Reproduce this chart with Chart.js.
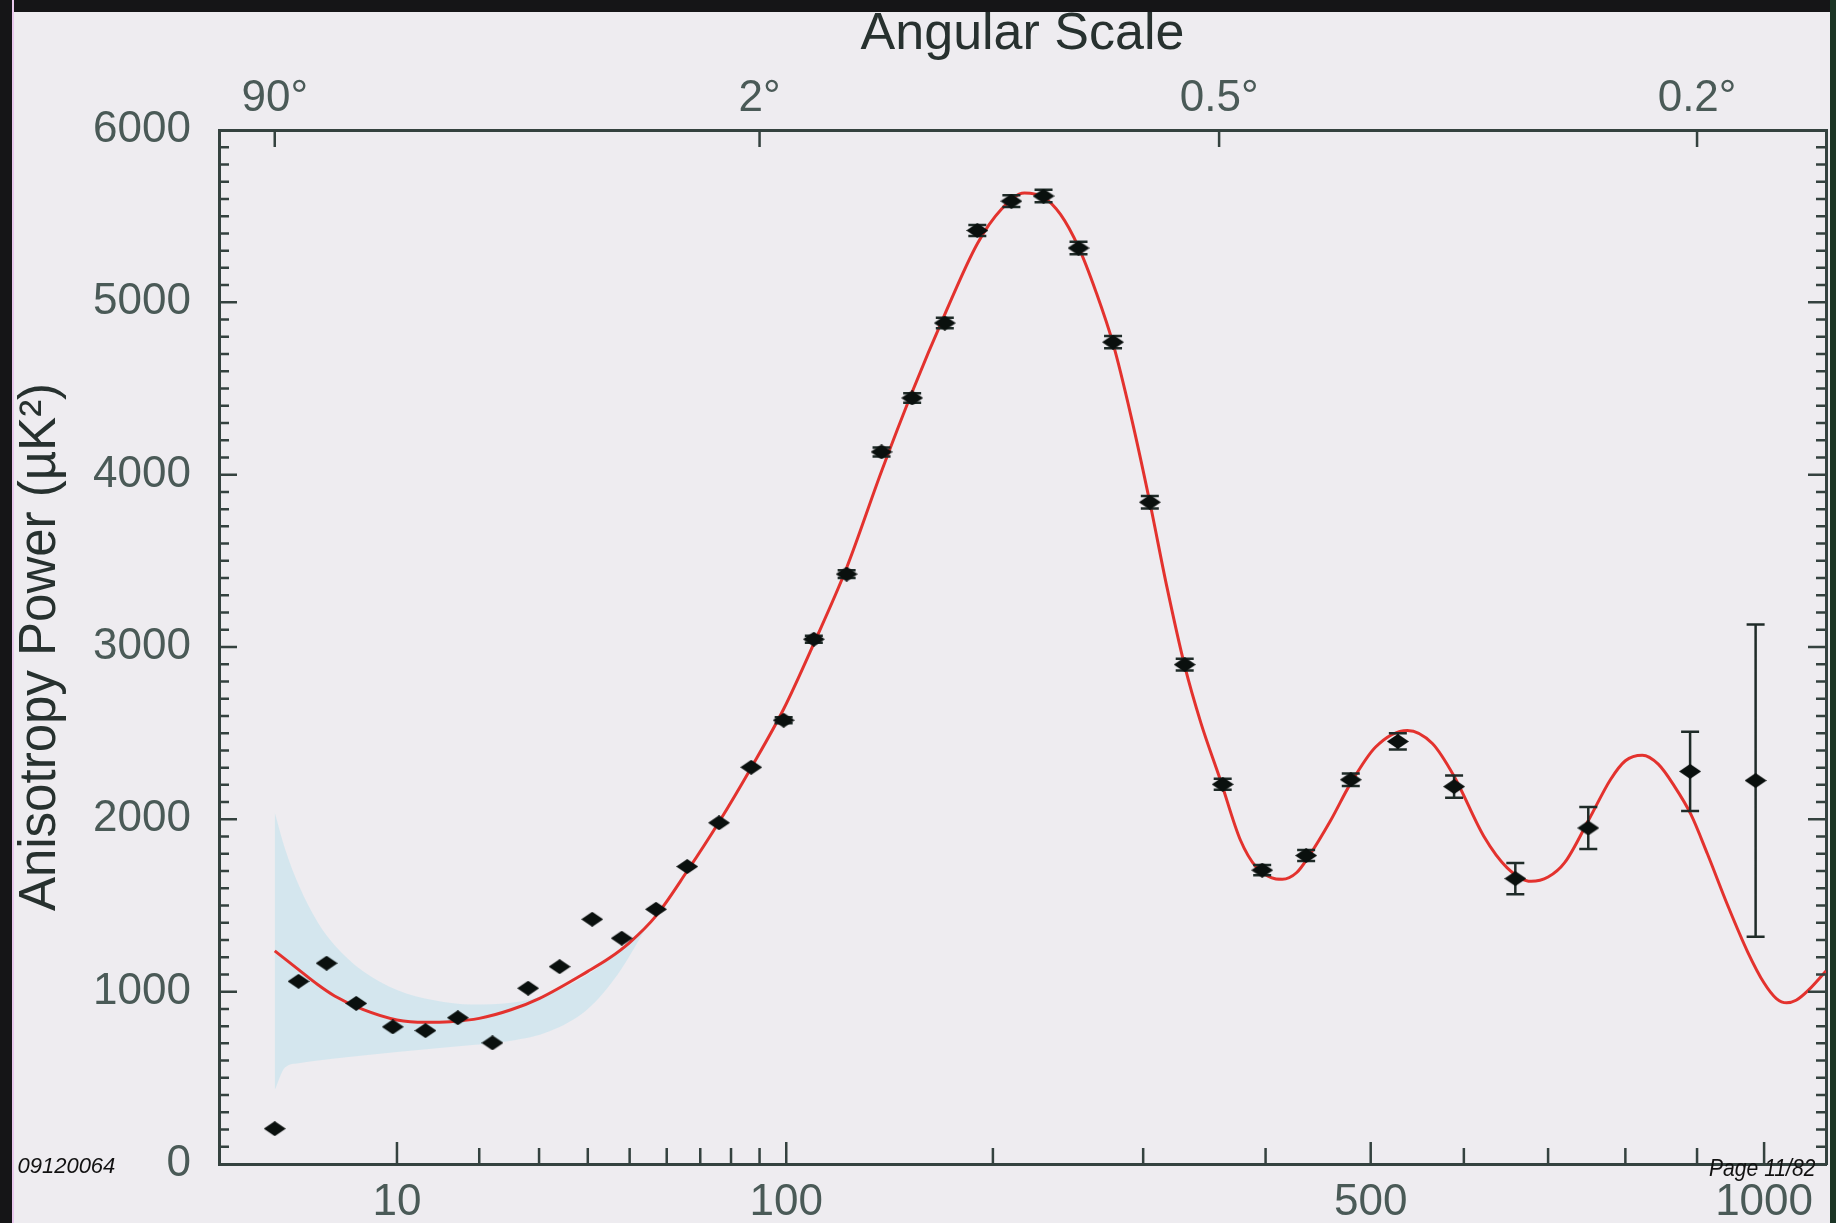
<!DOCTYPE html>
<html>
<head>
<meta charset="utf-8">
<script src="https://cdn.jsdelivr.net/npm/chart.js@4/dist/chart.umd.min.js"></script>
<style>
  html, body { margin: 0; padding: 0; background: #eeecf0; overflow: hidden; }
  #wrap { position: relative; width: 1836px; height: 1223px; }
  #chart { position: absolute; left: 0; top: 0; }
  .frameTop { position: absolute; left: 0; top: 0; width: 1836px; height: 12px; background: #151517; }
  .frameLeft { position: absolute; left: 0; top: 0; width: 12px; height: 1223px; background: #151517; border-right: 2px solid #e8c8ec; }
  .frameRight { position: absolute; right: 0; top: 0; width: 6px; height: 1223px; background: #1c3526; }
  .note { position: absolute; font-family: "Liberation Sans", Arial, sans-serif; font-style: italic; color: #111; white-space: nowrap; }
</style>
</head>
<body>
<div id="wrap">
  <canvas id="chart" width="1836" height="1223"></canvas>
  <div class="note" style="left:-7px; top:1153px; font-size:22px;">a: 09120064</div>
  <div class="note" style="left:1709px; top:1154px; font-size:24px; transform:scaleX(0.88); transform-origin:left top;">Page 11/82</div>
  <div class="frameTop"></div>
  <div class="frameLeft"></div>
  <div class="frameRight"></div>
</div>
<script>
// binned measurements (multipole l, power in uK^2, 1-sigma error)
const dataL     = [2, 3, 4.5, 6.5, 9.6, 13, 17, 22, 28, 34, 41, 48, 57, 66, 76, 87, 99, 111, 125, 141,
                   156, 173, 191, 211, 231, 254, 278, 305, 332, 363, 397, 437, 480, 528, 589, 660, 751, 890, 987];
const dataPower = [205, 1060, 1165, 932, 796, 774, 849, 703, 1020, 1145, 1420, 1310, 1478, 1726, 1980, 2302, 2575, 3045, 3423, 4132,
                   4445, 4880, 5417, 5587, 5617, 5315, 4769, 3840, 2898, 2203, 1705, 1790, 2230, 2452, 2190, 1656, 1950, 2278, 2225];
const dataErr   = [0, 0, 0, 0, 0, 0, 0, 0, 0, 0, 0, 0, 0, 0, 0, 0, 18, 20, 22, 26,
                   28, 30, 32, 34, 36, 36, 36, 36, 34, 32, 30, 32, 36, 47, 65, 90, 122, 230, 906];

// best fit model curve
const modelL     = [2, 3, 4, 5, 7, 10, 13, 16, 20, 25, 30, 40, 45, 50, 57, 66, 76, 87, 99, 111, 125, 141, 156, 173, 191, 205,
                    219, 231, 242, 254, 266, 278, 291, 305, 318, 332, 345, 361, 378, 392, 405, 415, 428, 440, 460, 480, 505,
                    538, 565, 589, 623, 650, 679, 700, 721, 752, 780, 800, 823, 845, 868, 891, 915, 945, 975, 1000, 1019,
                    1035, 1050, 1070, 1098];
const modelPower = [1237, 1128, 1040, 975, 897, 836, 822, 826, 845, 895, 960, 1118, 1195, 1285, 1440, 1700, 1985, 2300, 2640, 3020, 3460, 4020, 4480, 4930, 5340, 5540,
                    5635, 5610, 5510, 5320, 5060, 4760, 4340, 3840, 3350, 2890, 2560, 2230, 1880, 1720, 1662, 1652, 1690, 1790, 1990, 2210, 2420,
                    2516, 2440, 2250, 1900, 1720, 1640, 1665, 1750, 2000, 2230, 2340, 2372, 2320, 2190, 2030, 1800, 1500, 1230, 1050, 960,
                    935, 950, 1010, 1120];

// cosmic variance band at low l
const bandL     = [2, 2.4, 3, 4, 5, 7, 10, 14, 19, 25, 32, 40, 47, 54];
const bandUpper = [2040, 1830, 1620, 1400, 1270, 1120, 1010, 950, 925, 935, 990, 1100, 1230, 1380];
const bandLower = [430, 560, 585, 600, 612, 630, 650, 670, 690, 715, 770, 900, 1100, 1360];

// axes
const xLabelTicks = [10, 100, 500, 1000];
const xMinorTicks = [20, 30, 40, 50, 60, 70, 80, 90, 200, 300, 400, 600, 700, 800, 900];
const topTickL      = [2, 90, 360, 900];
const topTickLabels = ['90°', '2°', '0.5°', '0.2°'];
const yTicks = [0, 1000, 2000, 3000, 4000, 5000, 6000];

const FONT = '"Liberation Sans", Arial, Helvetica, sans-serif';
const tickColor = '#34423f';
const labelColor = '#4a5a57';
const titleColor = '#27312f';

// the multipole axis is spaced as l^0.4
const POW = 0.4;
class PowerScale extends Chart.LinearScale {
	getPixelForValue(value) {
		if (value === null || value === undefined || isNaN(value)) return NaN;
		const a = Math.pow(this.min, POW), b = Math.pow(this.max, POW);
		return this.getPixelForDecimal((Math.pow(value, POW) - a) / (b - a));
	}
	getValueForPixel(pixel) {
		const a = Math.pow(this.min, POW), b = Math.pow(this.max, POW);
		return Math.pow(a + this.getDecimalForPixel(pixel) * (b - a), 1 / POW);
	}
}
PowerScale.id = 'power';
Chart.register(PowerScale);

var diamond = document.createElement('canvas');
diamond.width = 22;
diamond.height = 15;
var dctx = diamond.getContext('2d');
dctx.fillStyle = '#0a100e';
dctx.beginPath();
dctx.moveTo(11, 0); dctx.lineTo(22, 7.5); dctx.lineTo(11, 15); dctx.lineTo(0, 7.5);
dctx.closePath();
dctx.fill();

const errorBars = {
	id: 'errorBars',
	afterDatasetDraw(chart, args) {
		if (args.index !== 1) return; // after the model curve, under the markers
		const ctx = chart.ctx, x = chart.scales.x, y = chart.scales.y;
		ctx.save();
		ctx.strokeStyle = '#1f2b28';
		ctx.lineWidth = 2.5;
		ctx.beginPath();
		dataL.forEach(function(l, i) {
			var e = dataErr[i];
			if (!e) return;
			var px = x.getPixelForValue(l);
			var top = y.getPixelForValue(dataPower[i] + e);
			var bot = y.getPixelForValue(dataPower[i] - e);
			ctx.moveTo(px, top); ctx.lineTo(px, bot);
			ctx.moveTo(px - 9, top); ctx.lineTo(px + 9, top);
			ctx.moveTo(px - 9, bot); ctx.lineTo(px + 9, bot);
		});
		ctx.stroke();
		ctx.restore();
	}
};

// tick marks drawn inward on all four sides
const innerTicks = {
	id: 'innerTicks',
	afterDraw(chart) {
		const ctx = chart.ctx, a = chart.chartArea, x = chart.scales.x, y = chart.scales.y;
		ctx.save();
		ctx.strokeStyle = tickColor;
		ctx.lineWidth = 2.5;
		ctx.beginPath();
		for (var v = 100; v < 6000; v += 100) {
			var py = y.getPixelForValue(v);
			var len = v % 1000 === 0 ? 18 : 10;
			ctx.moveTo(a.left, py); ctx.lineTo(a.left + len, py);
			ctx.moveTo(a.right, py); ctx.lineTo(a.right - len, py);
		}
		xLabelTicks.forEach(function(l) {
			var px = x.getPixelForValue(l);
			ctx.moveTo(px, a.bottom); ctx.lineTo(px, a.bottom - 22);
		});
		xMinorTicks.forEach(function(l) {
			var px = x.getPixelForValue(l);
			ctx.moveTo(px, a.bottom); ctx.lineTo(px, a.bottom - 16);
		});
		topTickL.forEach(function(l) {
			var px = x.getPixelForValue(l);
			ctx.moveTo(px, a.top); ctx.lineTo(px, a.top + 17);
		});
		ctx.stroke();
		ctx.restore();
	}
};

function pts(xs, ys) {
	return xs.map(function(v, i) { return {x: v, y: ys[i]}; });
}

var ctx = document.getElementById('chart').getContext('2d');
new Chart(ctx, {
	type: 'line',
	data: {
		datasets: [
			{
				label: 'data',
				data: pts(dataL, dataPower),
				showLine: false,
				pointStyle: diamond,
				pointRadius: 7
			},
			{
				label: 'model',
				data: pts(modelL, modelPower),
				borderColor: '#e3322e',
				borderWidth: 3,
				pointRadius: 0,
				fill: false,
				cubicInterpolationMode: 'monotone'
			},
			{
				label: 'band upper',
				data: pts(bandL, bandUpper),
				borderWidth: 0,
				pointRadius: 0,
				backgroundColor: 'rgba(203, 228, 238, 0.75)',
				fill: '+1',
				cubicInterpolationMode: 'monotone'
			},
			{
				label: 'band lower',
				data: pts(bandL, bandLower),
				borderWidth: 0,
				pointRadius: 0,
				fill: false,
				cubicInterpolationMode: 'monotone'
			}
		]
	},
	options: {
		responsive: false,
		animation: false,
		devicePixelRatio: 1,
		layout: { padding: 0 },
		plugins: {
			legend: { display: false },
			tooltip: { enabled: false }
		},
		scales: {
			x: {
				type: 'power',
				position: 'bottom',
				min: 0.53,
				max: 1098,
				afterBuildTicks: function(s) { s.ticks = xLabelTicks.map(function(v) { return {value: v}; }); },
				afterFit: function(s) { s.height = 59; },
				grid: { display: true, drawOnChartArea: false, drawTicks: false },
				border: { display: true, color: tickColor, width: 3 },
				ticks: {
					autoSkip: false, maxRotation: 0, padding: 12,
					color: labelColor,
					font: { family: FONT, size: 44 },
					callback: function(v) { return String(v); }
				}
			},
			xTop: {
				type: 'power',
				position: 'top',
				min: 0.53,
				max: 1098,
				afterBuildTicks: function(s) { s.ticks = topTickL.map(function(v) { return {value: v}; }); },
				afterFit: function(s) { s.height = 130; },
				grid: { display: true, drawOnChartArea: false, drawTicks: false },
				border: { display: true, color: tickColor, width: 3 },
				ticks: {
					autoSkip: false, maxRotation: 0, padding: 5,
					color: labelColor,
					font: { family: FONT, size: 44 },
					callback: function(v) { return topTickLabels[topTickL.indexOf(v)]; }
				},
				title: {
					display: true,
					text: 'Angular Scale',
					color: titleColor,
					font: { family: FONT, size: 52 },
					padding: { top: 3, bottom: 0 }
				}
			},
			y: {
				position: 'left',
				min: 0,
				max: 6000,
				afterBuildTicks: function(s) { s.ticks = yTicks.map(function(v) { return {value: v}; }); },
				afterFit: function(s) { s.width = 219; },
				grid: { display: true, drawOnChartArea: false, drawTicks: false },
				border: { display: true, color: tickColor, width: 3 },
				ticks: {
					padding: 28,
					color: labelColor,
					font: { family: FONT, size: 44 },
					callback: function(v) { return String(v); }
				},
				title: {
					display: true,
					text: 'Anisotropy Power (µK²)',
					color: titleColor,
					font: { family: FONT, size: 51 },
					padding: { top: 10, bottom: 0 }
				}
			},
			y2: {
				position: 'right',
				min: 0,
				max: 6000,
				afterFit: function(s) { s.width = 10; },
				grid: { display: true, drawOnChartArea: false, drawTicks: false },
				border: { display: true, color: tickColor, width: 3 },
				ticks: { display: false }
			}
		}
	},
	plugins: [errorBars, innerTicks]
});
</script>
</body>
</html>
